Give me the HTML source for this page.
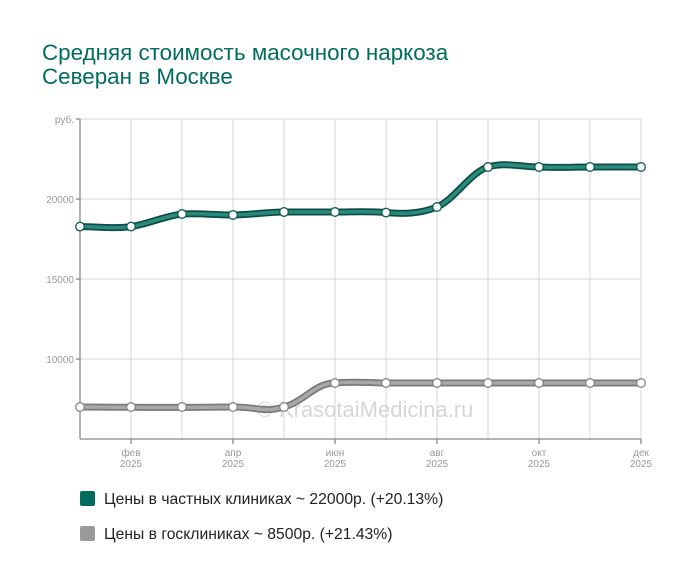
<!DOCTYPE html><html><head><meta charset="utf-8"><style>body{margin:0;background:#fff;font-family:"Liberation Sans",sans-serif}</style></head><body>
<svg width="700" height="582" xmlns="http://www.w3.org/2000/svg" font-family="Liberation Sans, sans-serif">
<text x="42" y="60" font-size="22.4" fill="#006b5f">Средняя стоимость масочного наркоза</text>
<text x="42" y="84" font-size="22.4" fill="#006b5f">Северан в Москве</text>
<g stroke="#d6d6d6" stroke-width="1">
<line x1="80" y1="199" x2="641" y2="199"/><line x1="80" y1="279" x2="641" y2="279"/><line x1="80" y1="359" x2="641" y2="359"/><line x1="80" y1="119" x2="641" y2="119"/>
<line x1="131" y1="119" x2="131" y2="439"/><line x1="182" y1="119" x2="182" y2="439"/><line x1="233" y1="119" x2="233" y2="439"/><line x1="284" y1="119" x2="284" y2="439"/><line x1="335" y1="119" x2="335" y2="439"/><line x1="386" y1="119" x2="386" y2="439"/><line x1="437" y1="119" x2="437" y2="439"/><line x1="488" y1="119" x2="488" y2="439"/><line x1="539" y1="119" x2="539" y2="439"/><line x1="590" y1="119" x2="590" y2="439"/><line x1="641" y1="119" x2="641" y2="439"/>
</g>
<g stroke="#888" stroke-width="1.3"><line x1="80" y1="119" x2="80" y2="439"/><line x1="80" y1="439" x2="641" y2="439"/>
<line x1="76" y1="119" x2="80" y2="119"/><line x1="76" y1="199" x2="80" y2="199"/><line x1="76" y1="279" x2="80" y2="279"/><line x1="76" y1="359" x2="80" y2="359"/>
<line x1="131" y1="439" x2="131" y2="444"/><line x1="233" y1="439" x2="233" y2="444"/><line x1="335" y1="439" x2="335" y2="444"/><line x1="437" y1="439" x2="437" y2="444"/><line x1="539" y1="439" x2="539" y2="444"/><line x1="641" y1="439" x2="641" y2="444"/></g>
<g font-size="10" fill="#999" text-anchor="end"><text x="74" y="123">руб.</text><text x="74" y="203">20000</text><text x="74" y="283">15000</text><text x="74" y="363">10000</text></g>
<g font-size="10" fill="#999" text-anchor="middle">
<text x="131" y="456">фев</text><text x="131" y="467">2025</text><text x="233" y="456">апр</text><text x="233" y="467">2025</text><text x="335" y="456">июн</text><text x="335" y="467">2025</text><text x="437" y="456">авг</text><text x="437" y="467">2025</text><text x="539" y="456">окт</text><text x="539" y="467">2025</text><text x="641" y="456">дек</text><text x="641" y="467">2025</text></g>
<text x="365" y="417" font-size="22" fill="#ccc" text-anchor="middle" opacity="0.8">© KrasotaiMedicina.ru</text>
<path d="M80,226.6 C97,226.6 114,229 131,226.6 C148,224 165,216 182,214 C199,213 216,215 233,215 C250,215 267,212 284,212 C301,212 318,212 335,212 C352,212 369,211 386,212.6 C403,214 420,214 437,207 C454,200 471,172 488,167 C505,162 522,167 539,167 C556,168 573,167 590,167 C607,167 624,167 641,167" fill="none" stroke="#0d4d45" stroke-width="7"/>
<path d="M80,226.6 C97,226.6 114,229 131,226.6 C148,224 165,216 182,214 C199,213 216,215 233,215 C250,215 267,212 284,212 C301,212 318,212 335,212 C352,212 369,211 386,212.6 C403,214 420,214 437,207 C454,200 471,172 488,167 C505,162 522,167 539,167 C556,168 573,167 590,167 C607,167 624,167 641,167" fill="none" stroke="#2a8a7d" stroke-width="3.5"/>
<path d="M80,407 C120,407 160,408 233,407 C260,407 262,413 284,407 C305,401 315,383 335,383 C352,381 369,383 386,383 C450,383 560,383 641,383" fill="none" stroke="#7a7a7a" stroke-width="7"/>
<path d="M80,407 C120,407 160,408 233,407 C260,407 262,413 284,407 C305,401 315,383 335,383 C352,381 369,383 386,383 C450,383 560,383 641,383" fill="none" stroke="#a8a8a8" stroke-width="3.5"/>
<g fill="#fff" stroke="#0d5c53" stroke-width="1.3">
<circle cx="80" cy="226.6" r="4.3"/><circle cx="131" cy="226.6" r="4.3"/><circle cx="182" cy="214" r="4.3"/><circle cx="233" cy="215" r="4.3"/><circle cx="284" cy="212" r="4.3"/><circle cx="335" cy="212" r="4.3"/><circle cx="386" cy="212.6" r="4.3"/><circle cx="437" cy="207" r="4.3"/><circle cx="488" cy="167" r="4.3"/><circle cx="539" cy="167" r="4.3"/><circle cx="590" cy="167" r="4.3"/><circle cx="641" cy="167" r="4.3"/></g>
<g fill="#fff" stroke="#888" stroke-width="1.3">
<circle cx="80" cy="407" r="4.3"/><circle cx="131" cy="407" r="4.3"/><circle cx="182" cy="407" r="4.3"/><circle cx="233" cy="407" r="4.3"/><circle cx="284" cy="407" r="4.3"/><circle cx="335" cy="383" r="4.3"/><circle cx="386" cy="383" r="4.3"/><circle cx="437" cy="383" r="4.3"/><circle cx="488" cy="383" r="4.3"/><circle cx="539" cy="383" r="4.3"/><circle cx="590" cy="383" r="4.3"/><circle cx="641" cy="383" r="4.3"/></g>
<rect x="80" y="491" width="15" height="15" rx="2" fill="#006b5f"/>
<rect x="80" y="526" width="15" height="15" rx="2" fill="#999"/>
<text x="104" y="504" font-size="15.7" fill="#222">Цены в частных клиниках ~ 22000р. (+20.13%)</text>
<text x="104" y="539" font-size="15.7" fill="#222">Цены в госклиниках ~ 8500р. (+21.43%)</text>
</svg></body></html>
